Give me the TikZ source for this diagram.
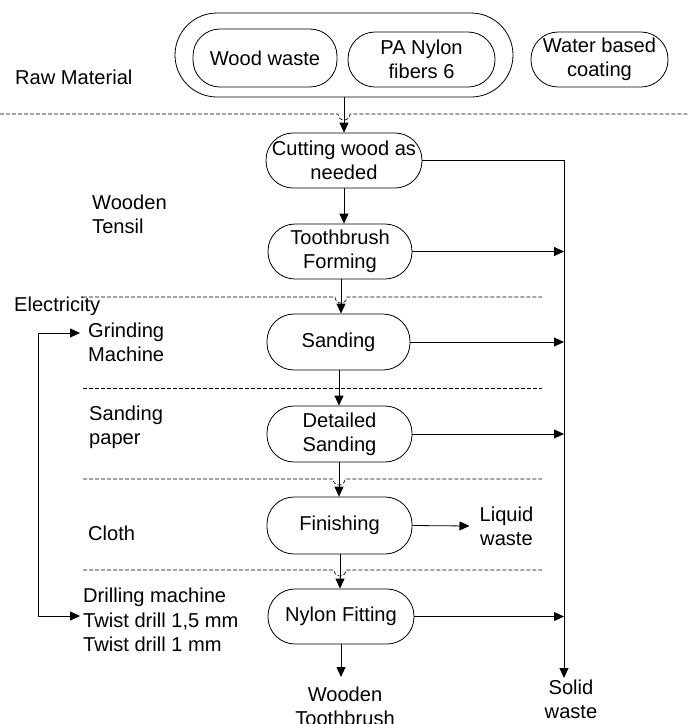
\documentclass[tikz,border=0pt]{standalone}
\usepackage{fontspec}
\setmainfont{Liberation Sans}
\usetikzlibrary{arrows.meta}
\begin{document}
\begin{tikzpicture}[x=1pt,y=-1pt,
  every node/.style={font=\fontsize{20.1}{24.3}\selectfont, inner sep=0pt},
  ln/.style={line width=0.8pt},
  arr/.style={ln,-{Triangle[length=10pt,width=9pt]}},
  dsh/.style={line width=0.6pt, dash pattern=on 4pt off 2pt},
  proc/.style={draw, ln, rounded corners=27pt, align=center, minimum height=55pt},
  lbl/.style={anchor=west, align=left},
  ctr/.style={align=center}]
\useasboundingbox (0,0) rectangle (688,724);

% raw material group
\node[draw, ln, rounded corners=42pt, minimum width=338pt, minimum height=84pt] (outer) at (344,55) {};
\node[proc, minimum width=144pt, minimum height=58pt] (ww) at (265,58) {Wood waste};
\node[proc, minimum width=147pt] (pa) at (421.5,59.5) {PA Nylon\\fibers 6};
\node[proc, minimum width=137pt] (wc) at (599.5,59.5) {Water based\\coating};

% process boxes
\node[proc, minimum width=156pt] (cut) at (344,160.5) {Cutting wood as\\needed};
\node[proc, minimum width=144pt] (tf) at (340,251.5) {Toothbrush\\Forming};
\node[proc, minimum width=143pt, minimum height=56pt] (sand) at (338.5,342) {Sanding};
\node[proc, minimum width=145pt, minimum height=56pt] (ds) at (339.5,434) {Detailed\\Sanding};
\node[proc, minimum width=145pt, minimum height=57pt] (fin) at (339.5,525.5) {Finishing};
\node[proc, minimum width=146pt] (nf) at (341,616.5) {Nylon Fitting};

% left labels
\node[lbl] (raw) at (15,77) {Raw Material};
\node[lbl] (wt) at (92,214.5) {Wooden\\Tensil};
\node[lbl] (el) at (14,306) {Electricity};
\node[lbl] (gm) at (88,342) {Grinding\\Machine};
\node[lbl] (sp) at (89,427) {Sanding\\paper};
\node[lbl] (cl) at (88,533) {Cloth};
\node[lbl] (dm) at (83,620) {Drilling machine\\Twist drill 1,5 mm\\Twist drill 1 mm};

% outputs
\node[ctr, inner xsep=10pt] (lw) at (506.5,526) {Liquid\\waste};
\node[ctr] (wtb) at (345,706) {Wooden\\Toothbrush};
\node[ctr] (sw) at (571,699.5) {Solid\\waste};

\coordinate (vl) at (564,160.5);
\coordinate (swtip) at (564,678);
\coordinate (wtip) at (341,677);
\coordinate (g1) at (80,333);
\coordinate (d1) at (80,616);

% dashed separators with hops
\draw[dsh] (0,114) -- (338,114) arc[start angle=180,end angle=0,radius=6] -- (688,114);
\draw[dsh] (83,297) -- (335,297) arc[start angle=180,end angle=0,radius=6] -- (542,297);
\draw[dsh] (83,388) -- (542,388);
\draw[dsh] (83,479) -- (333,479) arc[start angle=180,end angle=0,radius=6] -- (542,479);
\draw[dsh] (83,570) -- (334,570) arc[start angle=180,end angle=0,radius=6] -- (542,570);

% connectors
\draw[arr] (outer.south) -- (cut.north);
\draw[arr] (cut.east) -| (swtip);
\draw[arr] (cut.south) -- (cut.south |- tf.north);
\draw[arr] (tf.east) -- (tf.east -| vl);
\draw[arr] (tf.south -| 341,0) -- (341,0 |- sand.north);
\draw[arr] (sand.east) -- (sand.east -| vl);
\draw[arr] (sand.south -| 339,0) -- (339,0 |- ds.north);
\draw[arr] (ds.east) -- (ds.east -| vl);
\draw[arr] (ds.south -| 339,0) -- (339,0 |- fin.north);
\draw[arr] (fin.east) -- (lw.west);
\draw[arr] (fin.south -| 340,0) -- (340,0 |- nf.north);
\draw[arr] (nf.east) -- (nf.east -| vl);
\draw[arr] (nf.south) -- (wtip);
\draw[ln,{Triangle[length=10pt,width=9pt]}-{Triangle[length=10pt,width=9pt]}] (g1) -- ++(-42,0) |- (d1);
\end{tikzpicture}
\end{document}
